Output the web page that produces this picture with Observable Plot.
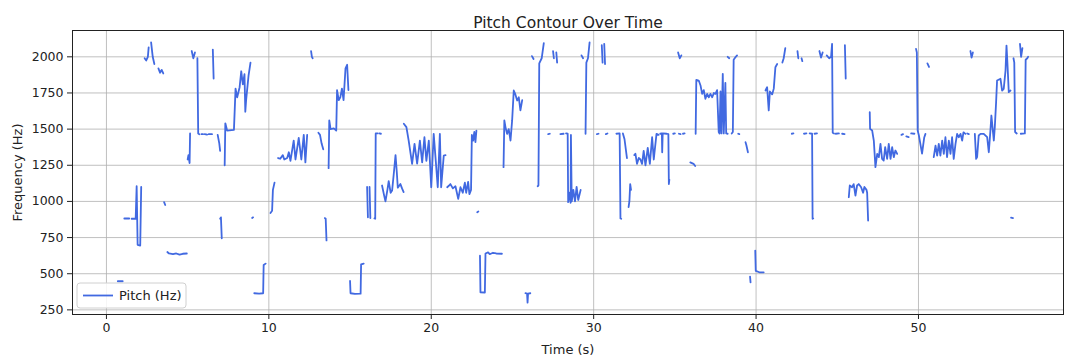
<!DOCTYPE html>
<html><head><meta charset="utf-8">
<script src="https://cdn.jsdelivr.net/npm/d3@7"></script>
<script src="https://cdn.jsdelivr.net/npm/@observablehq/plot@0.6"></script>
<style>
body{margin:0;background:#fff;}
#chart svg{font-family:"DejaVu Sans",sans-serif;}
</style></head><body><div id="chart"></div>
<script>
// Each inner list is one voiced stretch of the contour (time in s / pitch in Hz)
const segTimes = [
 [0.70,1.00],
 [1.10,1.40],
 [1.55,1.80,1.86,1.92,2.08,2.14],
 [2.35,2.45,2.55,2.60],
 [2.75,2.85,2.95],
 [3.20,3.30,3.40,3.50],
 [3.55,3.62],
 [3.75,3.85,4.10,4.30,4.50,4.70,4.95],
 [5.00,5.05,5.12,5.15],
 [5.25,5.35,5.45],
 [5.60,5.65,5.72],
 [5.85,5.95],
 [6.05,6.20],
 [6.30,6.50],
 [6.55,6.60],
 [6.85,6.95,7.00],
 [7.00,7.05,7.10],
 [7.28,7.32,7.43,7.85,7.95,8.05,8.20,8.30,8.40,8.50,8.55,8.60,8.75,8.87],
 [8.97,9.03],
 [9.10,9.40,9.65,9.68,9.80],
 [10.10,10.20,10.25,10.35],
 [10.57,10.70,10.86,10.95,11.13,11.23,11.33,11.53,11.64,11.84,12.00,12.15,12.25,12.36],
 [12.60,12.65,12.70],
 [13.05,13.15,13.25,13.35],
 [13.45,13.50,13.55],
 [13.68,13.72,13.80,14.00,14.15,14.20,14.30,14.40,14.50,14.60,14.72,14.82,14.90],
 [15.00,15.03,15.30,15.65,15.68,15.84],
 [16.05,16.10],
 [16.20,16.25],
 [16.50,16.55,16.58,16.70],
 [16.80,16.90],
 [16.97,17.10,17.18,17.30,17.38,17.50,17.59,17.70,17.80,17.88,17.94,18.10,18.20,18.30],
 [18.31,18.47,18.61,18.82,18.97,19.13,19.30,19.44,19.58,19.70,19.85,20.00,20.15,20.26,20.40,20.53,20.61,20.77,20.88],
 [20.98,21.10,21.18,21.33,21.49,21.66,21.80,21.94,22.07,22.15,22.27,22.35,22.45,22.50,22.58,22.65,22.72,22.78],
 [22.83,22.90],
 [23.00,23.03,23.30,23.34,23.50,23.60,23.80,24.00,24.35],
 [24.45,24.50,24.57,24.67,24.77,24.88,24.98,25.08,25.18,25.29,25.39,25.49,25.60],
 [25.80,25.90,25.93,25.96,26.10],
 [26.20,26.30],
 [26.55,26.60,26.65,26.80,26.93],
 [27.50,27.55],
 [27.70,27.75],
 [27.20,27.30],
 [27.95,28.15],
 [28.30,28.40,28.43,28.50,28.58,28.60,28.65,28.75,28.85,28.95,29.05,29.20],
 [29.25,29.35],
 [29.50,29.55,29.65,29.75],
 [30.20,30.30],
 [30.75,30.85],
 [30.50,30.55],
 [30.65,30.70],
 [31.40,31.60,31.65,31.70],
 [31.80,31.90,32.05],
 [32.15,32.20,32.25,32.30],
 [32.50,32.57,32.67,32.78,32.88,32.98,33.08,33.19,33.33,33.46,33.60,33.70,33.87,34.00],
 [34.10,34.20,34.22,34.25,34.50,34.60,34.63,34.66],
 [34.90,35.00],
 [35.25,35.35],
 [35.50,35.60],
 [35.20,35.30,35.40],
 [35.95,36.15,36.25],
 [36.28,36.32,36.47,36.58,36.68,36.78,36.88,36.99,37.09,37.19,37.30,37.40,37.50,37.60,37.70,37.75,37.81,37.87,37.95,38.01,38.11,38.16,38.25],
 [38.25,38.35],
 [38.50,38.57,38.62,38.75,38.83],
 [38.90,38.97],
 [39.35,39.40,39.50],
 [39.63,39.66],
 [39.95,39.98,40.20,40.47],
 [40.58,40.68,40.78,40.85,40.99,41.09,41.19,41.30],
 [41.62,41.70,41.80],
 [42.20,42.30],
 [42.55,42.60],
 [42.80,42.85],
 [42.95,43.10],
 [43.30,43.45,43.48,43.52],
 [43.60,43.75],
 [43.90,44.00,44.10],
 [44.35,44.50,44.62,44.68,44.72,44.80],
 [44.90,45.10],
 [45.30,45.45],
 [45.47,45.52],
 [45.71,45.77,45.91,46.01,46.12,46.22,46.32,46.47,46.59,46.67,46.80,46.84,46.90],
 [47.00,47.02,47.15,47.25,47.35,47.46,47.56,47.66,47.76,47.86,47.95,48.07,48.17,48.28,48.38,48.48,48.58,48.69],
 [48.95,49.05],
 [49.25,49.40],
 [49.55,49.75],
 [49.85,49.90,49.95,50.02,50.22,50.35,50.43],
 [50.55,50.65],
 [50.94,51.05,51.15,51.25,51.35,51.46,51.56,51.66,51.76,51.87,51.97,52.07,52.17,52.28,52.38,52.48,52.59,52.69,52.77,52.89],
 [53.00,53.10],
 [53.20,53.27,53.35],
 [53.47,53.55,53.61,53.71,53.82,54.02,54.23,54.33,54.43,54.49,54.58,54.64,54.70,54.78,54.84,55.05,55.15,55.25,55.36,55.42,55.48,55.56,55.67],
 [55.70,55.82],
 [55.85,55.90,55.95,56.05],
 [56.25,56.32,56.40],
 [56.30,56.55,56.60,56.70,56.75]
];
const segPitch = [
 [448,448],
 [882,882],
 [880,880,1105,700,695,1100],
 [1990,1975,2000,2065],
 [2100,2000,1950],
 [1920,1890,1910,1885],
 [995,975],
 [650,640,635,640,632,638,640],
 [1290,1320,1265,1470],
 [2040,1990,2030],
 [1990,1470,1465],
 [1465,1465],
 [1465,1462],
 [1465,1465],
 [2050,1850],
 [1460,1400,1350],
 [880,890,745],
 [1250,1540,1490,1495,1780,1720,1790,1900,1810,1880,1620,1700,1870,1960],
 [885,890],
 [365,362,365,560,570],
 [920,935,1080,1130],
 [1300,1295,1320,1290,1300,1340,1280,1420,1290,1440,1290,1460,1270,1460],
 [2040,2000,1990],
 [1475,1460,1400,1360],
 [885,880,730],
 [1230,1560,1500,1505,1490,1770,1700,1720,1780,1700,1920,1945,1770],
 [450,365,360,362,565,570],
 [1100,890],
 [1100,885],
 [882,880,1470,1470],
 [1470,1468],
 [1110,1040,1000,1080,1140,1060,1075,1200,1320,1200,1095,1120,1090,1065],
 [1537,1514,1421,1260,1398,1262,1420,1270,1444,1280,1420,1098,1467,1306,1098,1467,1098,1317,1320],
 [1098,1110,1120,1090,1105,1018,1098,1060,1130,1060,1135,1050,1080,1460,1420,1480,1410,1490],
 [925,930],
 [625,372,370,640,648,635,645,640,638],
 [1237,1560,1514,1467,1500,1421,1560,1767,1740,1698,1720,1629,1700],
 [365,362,300,362,365],
 [2005,1985],
 [1105,1110,1955,1990,2095],
 [2040,1990],
 [2030,1960],
 [1465,1468],
 [1465,1468],
 [1470,1468,995,1060,990,1460,1000,1080,1000,1100,1010,1080],
 [2010,1990],
 [1468,1960,1990,2100],
 [1465,1468],
 [1465,1470],
 [2080,1960],
 [2090,1950],
 [1468,1470,882,880],
 [1470,1430,1300],
 [960,1000,1120,1080],
 [1320,1330,1260,1300,1290,1260,1350,1250,1370,1260,1444,1290,1467,1460],
 [1468,1470,1340,1470,1468,1465,1120,1150],
 [1468,1470],
 [1468,1465],
 [1468,1470],
 [2030,1990,2010],
 [1270,1260,1245],
 [1468,1840,1836,1802,1744,1770,1710,1744,1720,1744,1720,1750,1744,1770,1480,1470,1760,1470,1882,1470,1820,1470,1468],
 [2000,1990],
 [1470,1480,1980,2000,2010],
 [1468,1465],
 [1410,1390,1340],
 [480,440],
 [660,520,510,510],
 [1767,1790,1629,1760,1740,1780,1928,1950],
 [1960,1990,2060],
 [1468,1470],
 [2040,1990],
 [1990,1970],
 [1468,1470],
 [1470,1468,880,882],
 [1468,1470],
 [2040,1995,2030],
 [2010,1990,2000,2090,1475,1470],
 [1468,1470],
 [1468,1465],
 [2080,1850],
 [1029,1110,1098,1120,1040,1110,1120,1098,1060,1100,1080,1060,868],
 [1617,1502,1490,1421,1237,1329,1306,1398,1294,1283,1375,1294,1398,1294,1375,1306,1352,1329],
 [1460,1465],
 [1450,1445],
 [1470,1468],
 [2055,2030,1490,1460,1330,1440,1467],
 [1955,1930],
 [1306,1386,1317,1398,1317,1421,1329,1444,1306,1421,1329,1444,1294,1398,1467,1444,1467,1421,1478,1467],
 [1470,1465],
 [2040,1995,2030],
 [1467,1294,1306,1456,1467,1467,1444,1340,1490,1594,1490,1421,1514,1686,1836,1848,1767,1779,1905,2078,1950,1756,1767],
 [888,885],
 [1990,1960,1480,1470],
 [2090,2000,2060],
 [1468,1470,1980,1990,2000]
];
const xTicks = [0, 10, 20, 30, 40, 50];
const yTicks = [250, 500, 750, 1000, 1250, 1500, 1750, 2000];
const titleText = "Pitch Contour Over Time";
const xLabel = "Time (s)";
const yLabel = "Frequency (Hz)";
const seriesLabel = "Pitch (Hz)";
const lineColor = "#4169e1";

const rows = segTimes.flatMap((ts, i) => ts.map((t, j) => ({t, f: segPitch[i][j], seg: i})));

const chart = Plot.plot({
  width: 1065, height: 362,
  marginLeft: 72, marginRight: 2, marginTop: 30, marginBottom: 48,
  style: {fontFamily: "DejaVu Sans", fontSize: "12.5px", color: "#222", background: "#fff"},
  x: {domain: [-2.09, 58.93], ticks: xTicks, tickFormat: d => String(d), tickSize: 5, tickPadding: 4,
      label: xLabel, labelAnchor: "center", labelArrow: "none", labelOffset: 39},
  y: {domain: [218, 2182], ticks: yTicks, tickFormat: d => String(d), tickSize: 5, tickPadding: 4,
      label: yLabel, labelAnchor: "center", labelArrow: "none", labelOffset: 60},
  marks: [
    Plot.gridX(xTicks, {stroke: "#b0b0b0", strokeOpacity: 1, strokeWidth: 0.8}),
    Plot.gridY(yTicks, {stroke: "#b0b0b0", strokeOpacity: 1, strokeWidth: 0.8}),
    Plot.line(rows, {x: "t", y: "f", z: "seg", stroke: lineColor, strokeWidth: 1.8, curve: "linear"}),
    Plot.frame({stroke: "#222", strokeWidth: 1}),
    Plot.text([titleText], {frameAnchor: "top", dy: -14, fontSize: 15.5, fill: "#222"})
  ]
});
document.getElementById("chart").appendChild(chart);

// axis titles slightly larger than tick labels, like the reference
d3.select(chart).selectAll("[aria-label='x-axis label'] text, [aria-label='y-axis label'] text").attr("font-size", 13);

// legend box (lower left inside the axes)
const svg = d3.select(chart);
const lg = svg.append("g").attr("transform", "translate(77,283)");
lg.append("rect").attr("width", 109).attr("height", 25).attr("rx", 3)
  .attr("fill", "#fff").attr("fill-opacity", 0.85).attr("stroke", "#d0d0d0");
lg.append("line").attr("x1", 6).attr("x2", 36).attr("y1", 12.5).attr("y2", 12.5)
  .attr("stroke", lineColor).attr("stroke-width", 1.8);
lg.append("text").attr("x", 42).attr("y", 12.5).attr("dy", "0.35em")
  .attr("text-anchor", "start").attr("font-size", 13).attr("fill", "#222").text(seriesLabel);
</script></body></html>
